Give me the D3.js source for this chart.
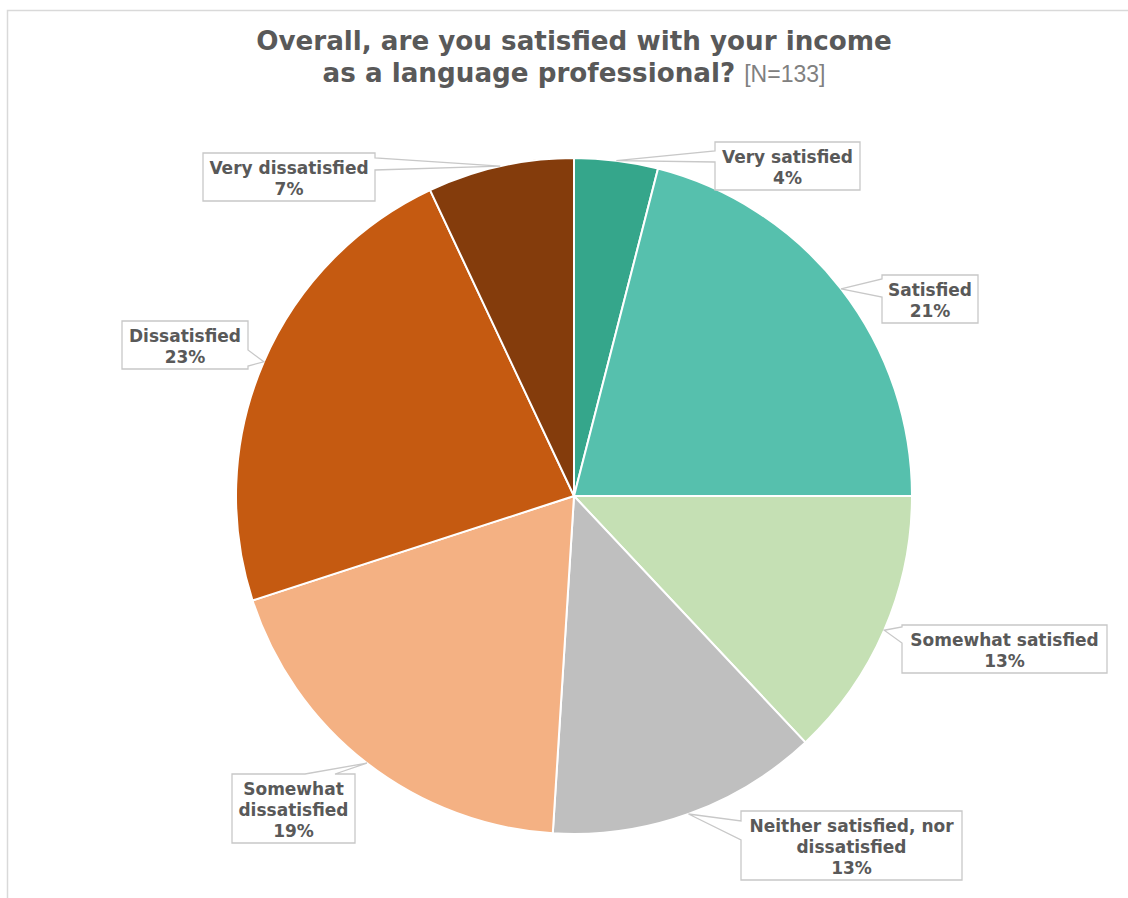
<!DOCTYPE html>
<html>
<head>
<meta charset="utf-8">
<script src="https://cdn.jsdelivr.net/npm/d3@7"></script>
<style>
  html, body { margin: 0; padding: 0; background: #ffffff; }
  svg { display: block; }
</style>
</head>
<body>
<svg id="chart" width="1128" height="898"></svg>
<script>
// Survey answers, in clockwise order from twelve o'clock
const categories = [
  "Very satisfied",
  "Satisfied",
  "Somewhat satisfied",
  "Neither satisfied, nor dissatisfied",
  "Somewhat dissatisfied",
  "Dissatisfied",
  "Very dissatisfied"
];
const shares = [4, 21, 13, 13, 19, 23, 7];   // percent of respondents
const sliceColors = ["#35a68b", "#56c0ad", "#c5e0b4", "#bfbfbf", "#f4b183", "#c55a11", "#843c0c"];
// Label lines for each callout (the wrapped category name)
const labelLines = [
  ["Very satisfied"],
  ["Satisfied"],
  ["Somewhat satisfied"],
  ["Neither satisfied, nor", "dissatisfied"],
  ["Somewhat", "dissatisfied"],
  ["Dissatisfied"],
  ["Very dissatisfied"]
];
const titleLines = ["Overall, are you satisfied with your income", "as a language professional?"];
const sampleNote = "[N=133]";

// Callout boxes: box geometry, side the pointer leaves from, and pointer base offsets on that side
const callouts = [
  { x: 715, y: 142, w: 145, h: 48, side: "left",  s0: 9,  s1: 20 },
  { x: 882, y: 275, w: 96,  h: 48, side: "left",  s0: 4,  s1: 22 },
  { x: 902, y: 625, w: 205, h: 48, side: "left",  s0: 2,  s1: 18 },
  { x: 741, y: 811, w: 221, h: 69, side: "left",  s0: 10, s1: 29 },
  { x: 232, y: 774, w: 123, h: 69, side: "top",   s0: 73, s1: 103 },
  { x: 122, y: 321, w: 126, h: 48, side: "right", s0: 29, s1: 45 },
  { x: 203, y: 153, w: 172, h: 48, side: "right", s0: 5,  s1: 17 }
];

const svg = d3.select("#chart");
const cx = 574, cy = 496, radius = 338;

// Outer chart frame
svg.append("rect")
  .attr("x", 7.5).attr("y", 10.5)
  .attr("width", 1140).attr("height", 900)
  .attr("fill", "none")
  .attr("stroke", "#d9d9d9")
  .attr("stroke-width", 1.5);

// Title
const title = svg.append("g").attr("font-family", "'DejaVu Sans', Verdana, sans-serif").attr("fill", "#595959");
const t1 = title.append("text")
  .attr("x", cx).attr("y", 50)
  .attr("text-anchor", "middle")
  .attr("font-weight", "bold")
  .attr("font-size", 26)
  .text(titleLines[0]);
// fit the first title line to its intended width
const w1 = t1.node().getComputedTextLength();
const titleSize = 26 * 636 / w1;
t1.attr("font-size", titleSize);

const t2 = title.append("text")
  .attr("x", cx).attr("y", 82)
  .attr("text-anchor", "middle");
t2.append("tspan")
  .attr("font-weight", "bold")
  .attr("font-size", titleSize)
  .text(titleLines[1] + " ");
t2.append("tspan")
  .attr("font-family", "'Liberation Sans Narrow', 'Arial Narrow', 'Liberation Sans', sans-serif")
  .attr("font-size", 23)
  .attr("fill", "#808080")
  .text(sampleNote);

// Pie
const pie = d3.pie().value(d => d).sort(null);
const arcs = pie(shares);
const arc = d3.arc().innerRadius(0).outerRadius(radius);

const g = svg.append("g").attr("transform", `translate(${cx},${cy})`);
g.selectAll("path.slice")
  .data(arcs)
  .join("path")
  .attr("class", "slice")
  .attr("d", arc)
  .attr("fill", (d, i) => sliceColors[i])
  .attr("stroke", "#ffffff")
  .attr("stroke-width", 2)
  .attr("stroke-linejoin", "round");

// Callout shape: box plus a wedge pointing at the slice edge
function calloutPath(b, ax, ay) {
  const x0 = b.x, y0 = b.y, x1 = b.x + b.w, y1 = b.y + b.h;
  const p = d3.path();
  if (b.side === "top") {
    p.moveTo(x0, y0); p.lineTo(x0 + b.s0, y0); p.lineTo(ax, ay); p.lineTo(x0 + b.s1, y0);
    p.lineTo(x1, y0); p.lineTo(x1, y1); p.lineTo(x0, y1); p.closePath();
  } else if (b.side === "right") {
    p.moveTo(x0, y0); p.lineTo(x1, y0); p.lineTo(x1, y0 + b.s0); p.lineTo(ax, ay);
    p.lineTo(x1, y0 + b.s1); p.lineTo(x1, y1); p.lineTo(x0, y1); p.closePath();
  } else {
    p.moveTo(x0, y0); p.lineTo(x1, y0); p.lineTo(x1, y1); p.lineTo(x0, y1);
    p.lineTo(x0, y0 + b.s1); p.lineTo(ax, ay); p.lineTo(x0, y0 + b.s0); p.closePath();
  }
  return p.toString();
}

const labels = svg.append("g")
  .attr("font-family", "'DejaVu Sans', Verdana, sans-serif")
  .attr("font-weight", "bold")
  .attr("font-size", 17)
  .attr("fill", "#595959");

arcs.forEach((d, i) => {
  const mid = (d.startAngle + d.endAngle) / 2;
  const ax = cx + radius * Math.sin(mid);
  const ay = cy - radius * Math.cos(mid);
  const b = callouts[i];
  labels.append("path")
    .attr("d", calloutPath(b, ax, ay))
    .attr("fill", "#ffffff")
    .attr("stroke", "#c8c8c8")
    .attr("stroke-width", 1.3)
    .attr("stroke-linejoin", "miter");
  const lines = labelLines[i].concat([d3.format(".0f")(d.data) + "%"]);
  const centerY = b.y + b.h / 2;
  const n = lines.length;
  lines.forEach((ln, j) => {
    labels.append("text")
      .attr("x", b.x + b.w / 2)
      .attr("y", centerY + (j - (n - 1) / 2) * 21 + 7.5)
      .attr("text-anchor", "middle")
      .text(ln);
  });
});
</script>
</body>
</html>
